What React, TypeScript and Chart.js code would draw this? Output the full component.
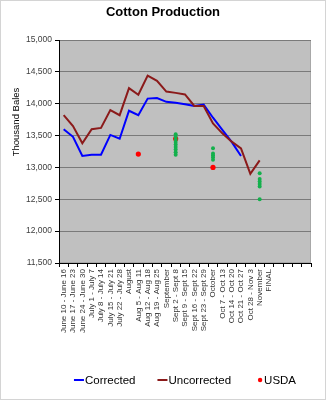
import React, { useEffect, useRef } from "react";
import { Chart, registerables } from "chart.js";

Chart.register(...registerables);

const FONT = "'Liberation Sans', Arial, sans-serif";

const categories = [
  "June 10 - June 16", "June 17 - June 23", "June 24 - June 30", "July 1 - July 7",
  "July 8 - July 14", "July 15 - July 21", "July 22 - July 28", "August",
  "Aug 5 - Aug 11", "Aug 12 - Aug 18", "Aug 19 - Aug 25", "September",
  "Sept 2 - Sept 8", "Sept 9 - Sept 15", "Sept 16 - Sept 22", "Sept 23 - Sept 29",
  "October", "Oct 7 - Oct 13", "Oct 14 - Oct 20", "Oct 21 - Oct 27",
  "Oct 28 - Nov 3", "November", "FINAL", "", "", "", "",
];

const corrected = [
  13600, 13480, 13180, 13200, 13200, 13510, 13450, 13890, 13820, 14080, 14090, 14030,
  14015, 13990, 13965, 13985, 13780, 13590, 13400, 13180, null, null, null, null, null, null, null,
];

const uncorrected = [
  13820, 13650, 13380, 13600, 13620, 13900, 13820, 14245, 14140, 14440, 14360, 14190,
  14170, 14145, 13965, 13965, 13690, 13535, 13405, 13300, 12900, 13110, null, null, null, null, null,
];

const usda = [
  null, null, null, null, null, null, null, null, 13210, null, null, null,
  13450, null, null, null, 13000, null, null, null, null, null, null, null, null, null, null,
];

const estimateLabels = ["Sept 2 - Sept 8", "October", "November"];
const sept2Estimates = [13520, 13480, 13440, 13400, 13360, 13320, 13280, 13240, 13200];
const octoberEstimates = [13300, 13220, 13190, 13160, 13120];
const novemberEstimates = [12910, 12820, 12780, 12740, 12700, 12500];

const yTicks = { min: 11500, max: 15000, step: 500 };

const titleText = "Cotton Production";
const yTitleText = "Thousand Bales";

export default function App() {
  const ref = useRef<HTMLCanvasElement>(null);

  useEffect(() => {
    document.body.style.margin = "0";
    const canvas = ref.current;
    if (!canvas) return;

    const estimatePoints: { x: string; y: number }[] = [];
    [sept2Estimates, octoberEstimates, novemberEstimates].forEach((vals, i) => {
      vals.forEach((v) => estimatePoints.push({ x: estimateLabels[i], y: v }));
    });

    const decor = {
      id: "decor",
      beforeDraw(chart: any) {
        const { ctx, width, height, chartArea: a } = chart;
        ctx.save();
        ctx.fillStyle = "#ffffff";
        ctx.fillRect(0, 0, width, height);
        ctx.strokeStyle = "#d4d4d4";
        ctx.lineWidth = 1;
        ctx.strokeRect(0.5, 0.5, width - 1, height - 1);
        ctx.fillStyle = "#c0c0c0";
        ctx.fillRect(a.left, a.top, a.right - a.left, a.bottom - a.top);
        ctx.strokeStyle = "#a8a8a8";
        ctx.strokeRect(a.left + 0.5, a.top + 0.5, a.right - a.left - 1, a.bottom - a.top - 1);
        ctx.restore();
      },
      afterDraw(chart: any) {
        const { ctx, width, chartArea: a } = chart;
        ctx.save();
        // title
        ctx.fillStyle = "#000";
        ctx.font = `bold 13px ${FONT}`;
        ctx.textAlign = "center";
        ctx.textBaseline = "middle";
        ctx.fillText(titleText, width / 2, 12);
        // y title
        ctx.save();
        ctx.translate(16, 122);
        ctx.rotate(-Math.PI / 2);
        ctx.font = `9.5px ${FONT}`;
        ctx.fillText(yTitleText, 0, 0);
        ctx.restore();
        // legend
        ctx.font = `11.5px ${FONT}`;
        ctx.textAlign = "left";
        const items = chart.data.datasets
          .filter((d: any) => d.label)
          .map((d: any) => ({ label: d.label, color: d.borderColor, dot: d.showLine === false }));
        const sym = 10;
        const gapSym = 1;
        const gapItem = 22;
        const widths = items.map((it: any) => sym + gapSym + ctx.measureText(it.label).width);
        const total = widths.reduce((s: number, w: number) => s + w, 0) + gapItem * (items.length - 1);
        let x = (a.left + a.right) / 2 - total / 2;
        const y = 380;
        items.forEach((it: any, i: number) => {
          if (it.dot) {
            ctx.fillStyle = it.color;
            ctx.beginPath();
            ctx.arc(x + sym - 3, y, 2.2, 0, Math.PI * 2);
            ctx.fill();
          } else {
            ctx.strokeStyle = it.color;
            ctx.lineWidth = 2;
            ctx.beginPath();
            ctx.moveTo(x, y);
            ctx.lineTo(x + sym, y);
            ctx.stroke();
          }
          ctx.fillStyle = "#000";
          ctx.fillText(it.label, x + sym + gapSym, y + 0.5);
          x += widths[i] + gapItem;
        });
        ctx.restore();
      },
    };

    const chart = new Chart(canvas, {
      type: "line",
      data: {
        labels: categories,
        datasets: [
          {
            label: "Corrected",
            data: corrected,
            borderColor: "#0000ff",
            backgroundColor: "#0000ff",
            borderWidth: 2,
            pointRadius: 0,
            tension: 0,
            spanGaps: false,
            order: 3,
          },
          {
            label: "Uncorrected",
            data: uncorrected,
            borderColor: "#8b1a1a",
            backgroundColor: "#8b1a1a",
            borderWidth: 2,
            pointRadius: 0,
            tension: 0,
            spanGaps: false,
            order: 2,
          },
          {
            label: "USDA",
            data: usda,
            borderColor: "#ff0000",
            backgroundColor: "#ff0000",
            showLine: false,
            pointRadius: 2.6,
            pointBorderWidth: 0,
            order: 1,
          },
          {
            label: "",
            data: estimatePoints as any,
            borderColor: "#14b04c",
            backgroundColor: "#14b04c",
            showLine: false,
            pointRadius: 2,
            pointBorderWidth: 0,
            order: 0,
          },
        ],
      },
      options: {
        animation: false,
        responsive: false,
        maintainAspectRatio: false,
        layout: { padding: { top: 40, right: 15, bottom: 0, left: 0 } },
        plugins: {
          legend: { display: false },
          title: { display: false },
          tooltip: { enabled: false },
        },
        scales: {
          x: {
            type: "category",
            offset: true,
            grid: {
              display: true,
              drawOnChartArea: false,
              drawTicks: true,
              tickLength: 4,
              tickColor: "#000",
              offset: true,
            },
            border: { display: true, color: "#000" },
            ticks: {
              autoSkip: false,
              maxRotation: 90,
              minRotation: 90,
              padding: 2,
              color: "#333",
              font: { size: 8, family: FONT },
            },
            afterFit: (s: any) => {
              s.height = 137;
            },
          },
          y: {
            min: yTicks.min,
            max: yTicks.max,
            ticks: {
              stepSize: yTicks.step,
              color: "#404040",
              padding: 3,
              font: { size: 8.5, family: FONT },
              callback: (v: any) => Number(v).toLocaleString("en-US"),
            },
            grid: {
              color: "#7a7a7a",
              lineWidth: 1,
              drawTicks: true,
              tickLength: 4,
              tickColor: "#000",
            },
            border: { display: true, color: "#000" },
            afterFit: (s: any) => {
              s.width = 59;
            },
          },
        },
      },
      plugins: [decor],
    });

    return () => chart.destroy();
  }, []);

  return (
    <div style={{ width: 326, height: 400 }}>
      <canvas ref={ref} width={326} height={400} style={{ display: "block", width: 326, height: 400 }} />
    </div>
  );
}
